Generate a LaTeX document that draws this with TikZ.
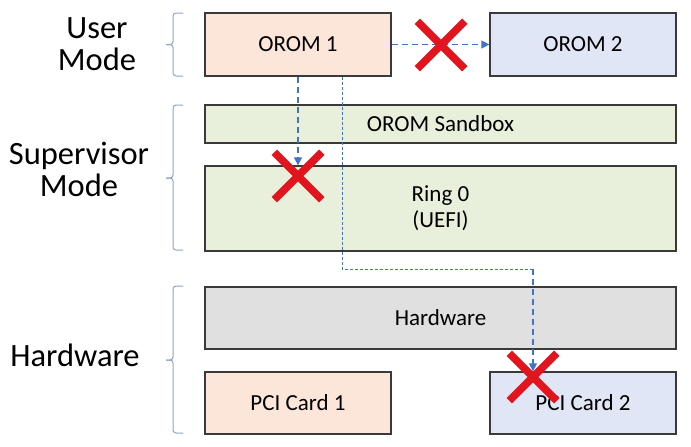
\documentclass[tikz,border=0pt]{standalone}
\usepackage{fontspec}
\setmainfont{Carlito}
\usetikzlibrary{arrows.meta, positioning, calc, shapes.misc}
\definecolor{PeachFill}{HTML}{FBE6D9}
\definecolor{LightBlue}{HTML}{E0E6F5}
\definecolor{LightGreen}{HTML}{E8F0DC}
\definecolor{LightGray}{HTML}{E0E0E0}
\definecolor{LinkBlue}{HTML}{4472C4}
\definecolor{BraceBlue}{HTML}{8FA3C9}
\definecolor{CrossRed}{HTML}{E2141E}
\definecolor{EdgeGray}{HTML}{3A3A3A}

\begin{document}
\begin{tikzpicture}[
    x=1pt, y=-1pt,
    box/.style={draw=EdgeGray, line width=1.3pt, inner sep=2pt, align=center,
        font=\fontsize{23}{26}\selectfont},
    modelabel/.style={align=center, font=\fontsize{32.5}{32}\selectfont},
    bracket/.style={draw=BraceBlue, line width=1pt, rounded corners=3pt},
    link/.style={draw=LinkBlue, line width=1.4pt, dash pattern=on 6pt off 4pt,
        -{Triangle[length=8pt, width=8pt]}},
    thinlink/.style={draw=LinkBlue, line width=0.9pt, dash pattern=on 3pt off 2pt},
    blocked/.style={cross out, draw=CrossRed, line width=7.5pt, minimum size=40pt, inner sep=0pt},
]
\useasboundingbox (0,0) rectangle (691,447);

% ---- User mode ----
\node[box, fill=PeachFill, minimum width=186pt, minimum height=63pt] (orom1) at (298,44.5) {OROM 1};
\node[box, fill=LightBlue, minimum width=186pt, minimum height=63pt] (orom2) at (583,44.5) {OROM 2};

% ---- Supervisor mode ----
\node[box, fill=LightGreen, minimum width=471pt, minimum height=38pt] (sandbox) at (440.5,124) {OROM Sandbox};
\node[box, fill=LightGreen, minimum width=471pt, minimum height=85pt] (ring0) at (440.5,208.5) {Ring 0\\(UEFI)};

% ---- Hardware ----
\node[box, fill=LightGray, minimum width=471pt, minimum height=62pt] (hw) at (440.5,318) {Hardware};
\node[box, fill=PeachFill, minimum width=186pt, minimum height=62pt] (pci1) at (298,403) {PCI Card 1};
\node[box, fill=LightBlue, minimum width=186pt, minimum height=62pt] (pci2) at (583,403) {PCI Card 2};

% mode labels and brackets
\node[modelabel] (usr) at (97,44) {User\\Mode};
\node[modelabel] (sup) at (79,169) {Supervisor\\Mode};
\node[modelabel] (hwl) at (75,355) {Hardware};

\foreach \top/\tip/\bot in {13/44.5/76, 105/178/250, 286/360/433} {
    \draw[bracket] (183,\top) -- (173,\top) -- (173,\tip) -- (166,\tip);
    \draw[bracket] (166,\tip) -- (173,\tip) -- (173,\bot) -- (183,\bot);
}

% accesses
\draw[link] (orom1.east) -- (orom2.west);
\draw[link] (orom1.south) -- (ring0.north -| orom1.south);

\coordinate (turnA) at (342,269);
\coordinate (turnB) at (533,269);
\draw[thinlink] (orom1.south -| turnA) -- (turnA) -- (turnB);
\draw[link] (turnB) -- (pci2.north -| turnB);

% blocked marks
\node[blocked] (cut1) at (441,45) {};
\node[blocked] (cut2) at (298,176) {};
\node[blocked] (cut3) at (533,377) {};

\end{tikzpicture}
\end{document}
